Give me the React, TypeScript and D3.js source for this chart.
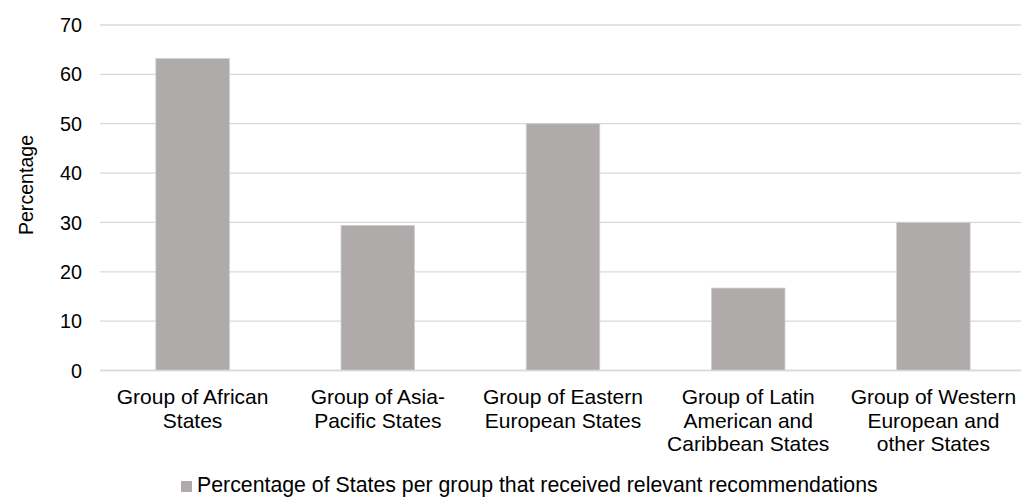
import React from "react";
import * as d3 from "d3";

const categories = [
  "Group of African States",
  "Group of Asia-Pacific States",
  "Group of Eastern European States",
  "Group of Latin American and Caribbean States",
  "Group of Western European and other States",
];
const categoryLines = [
  ["Group of African", "States"],
  ["Group of Asia-", "Pacific States"],
  ["Group of Eastern", "European States"],
  ["Group of Latin", "American and", "Caribbean States"],
  ["Group of Western", "European and", "other States"],
];
const values = [63.2, 29.4, 50, 16.7, 30];
const yTicks = [0, 10, 20, 30, 40, 50, 60, 70];
const seriesName = "Percentage of States per group that received relevant recommendations";
const yTitle = "Percentage";

const W = 1021;
const H = 497;
const FONT = "'Liberation Sans', Arial, sans-serif";
const BAR = "#AEABAA";
const GRID = "#D9D9D9";
const TEXT = "#000000";

export default function App() {
  const x = d3.scaleBand<string>()
    .domain(categories)
    .range([100, 1026])
    .paddingInner(0.603)
    .paddingOuter(0.3015);
  const y = d3.scaleLinear().domain([0, 70]).range([370.5, 25]);

  return (
    <svg
      width={W}
      height={H}
      style={{ position: "absolute", left: 0, top: 0, display: "block", background: "#fff" }}
      fontFamily={FONT}
    >
      {/* gridlines */}
      {yTicks.map((t) => (
        <line
          key={t}
          x1={100}
          x2={W}
          y1={y(t)}
          y2={y(t)}
          stroke={GRID}
          strokeWidth={1.3}
        />
      ))}
      {/* tick labels */}
      {yTicks.map((t) => (
        <text
          key={"l" + t}
          x={82}
          y={y(t)}
          dy="0.36em"
          textAnchor="end"
          fontSize={19.8}
          fill={TEXT}
        >
          {t}
        </text>
      ))}
      {/* y title */}
      <text
        transform={`translate(33,${185}) rotate(-90)`}
        textAnchor="middle"
        fontSize={19.6}
        fill={TEXT}
      >
        {yTitle}
      </text>
      {/* bars */}
      {categories.map((c, i) => (
        <rect
          key={c}
          x={x(c)!}
          y={y(values[i])}
          width={x.bandwidth()}
          height={y(0) - y(values[i])}
          fill={BAR}
          stroke="#D0CECE"
          strokeWidth={0.8}
        />
      ))}
      {/* baseline */}
      <line x1={100} x2={W} y1={y(0)} y2={y(0)} stroke={GRID} strokeWidth={1.3} />
      {/* category labels */}
      {categories.map((c, i) => (
        <text
          key={"c" + c}
          x={x(c)! + x.bandwidth() / 2}
          y={404}
          textAnchor="middle"
          fontSize={21}
          fill={TEXT}
        >
          {categoryLines[i].map((ln, j) => (
            <tspan key={j} x={x(c)! + x.bandwidth() / 2} y={404 + j * 23.5}>
              {ln}
            </tspan>
          ))}
        </text>
      ))}
      {/* legend */}
      <rect x={181} y={481} width={11} height={11} fill={BAR} />
      <text x={197} y={491.5} fontSize={21.3} fill={TEXT}>
        {seriesName}
      </text>
    </svg>
  );
}
